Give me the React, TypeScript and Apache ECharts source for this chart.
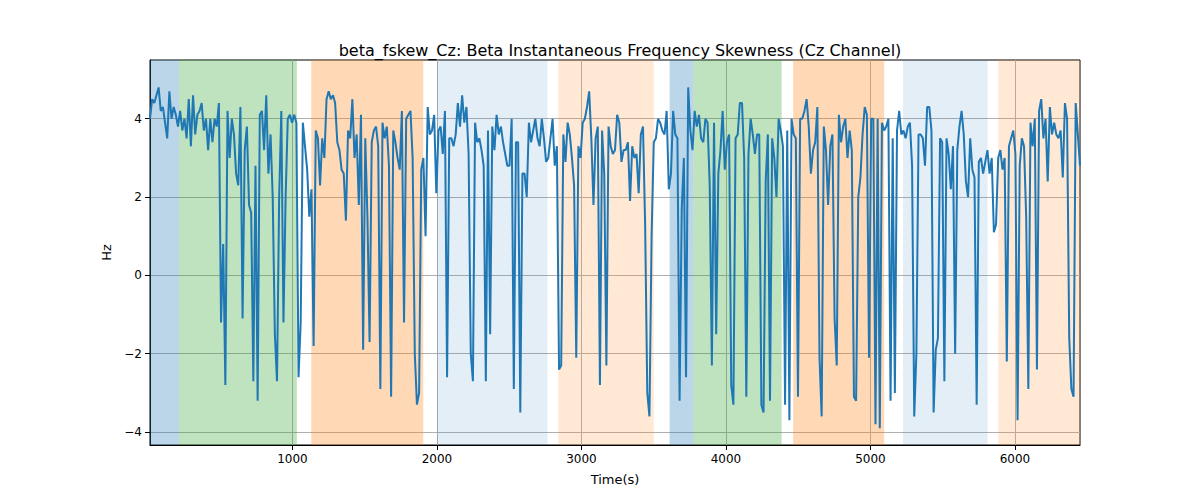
import { useEffect, useRef } from 'react'
import * as echarts from 'echarts'

const startTime = 14
const endTime = 6450

const values = [
  4.0, 4.5, 4.4, 4.6, 4.8, 4.2, 4.3, 3.9, 3.5, 4.7, 4.0, 4.3, 4.1, 3.8,
  4.2, 3.7, 4.0, 3.5, 4.5, 3.3, 4.6, 3.6, 4.1, 4.2, 4.4, 3.7, 4.0, 3.2, 4.0, 3.4, 4.0, 3.8, 4.4, -1.2, 0.8, -2.8, 4.2, 3.0, 4.0, 3.6, 2.6, 2.3, 4.3, -1.1, 3.2, 3.8, 1.8, 1.6, -2.7, 2.8, -3.2, 4.1, 4.2, 3.2, 4.6, 2.6, 3.6, 2.0, -1.5, -2.7, 2.0, 4.2, -1.2, 2.0, 4.0, 4.1, 3.9, 4.1,
  3.9, -2.6, -1.2, 3.9, 3.3, 2.7, 1.5, 2.2, -1.8,
  3.7, 3.5, 2.3, 3.5, 3.0, 4.5, 4.7, 4.5, 4.6, 4.4, 3.4, 3.2, 2.7, 2.6, 1.4, 3.7, 3.5, 4.5, 3.0, 3.6, 1.8, 4.1, -1.9, 3.5, 1.5, -1.7, 3.4, 3.7, 3.8, 3.3, -2.9, 3.9, 3.5, 3.8, 2.8, -3.1, 3.7, 3.4, 3.0, 2.7, 4.2, -1.2, 4.0, 4.1, 4.2, 3.0, -2.0, -3.3, -3.0, 2.7, 3.0, 1.0, 4.3,
  3.6, 3.7, 4.1, 2.1, 3.7, 3.8, 3.1, 4.2,
  -2.6, 3.5, 3.5, 3.3, 3.6, 4.4, 3.8, 4.6, 3.9, 4.3, 3.1, -2.0, -2.7, 3.9, 3.4, 3.5, 3.2, 2.8, -2.7, 3.7, -1.5, 3.8, 3.2, 4.1, 3.6, 3.8, 3.4, 3.1, 2.8, 2.8, 4.0, -2.9, 3.4, 3.4, -3.5, 2.6, 2.6, 2.0, 3.9, 3.4, 3.7, 4.0, 3.5, 3.3, 4.0, 3.5, 2.9, 3.0, 3.5, 4.0, 2.8, 3.3,
  -2.4, -2.3, 3.6, 2.9,
  3.9, 3.6, 3.0, 2.3, -2.1, 3.3, 3.0, 3.9, 4.0, 4.3, 4.7, 3.5, 1.8, 3.5, 3.8, -2.8, 3.7, 2.6, -2.3, 3.8, 3.3, 3.1, 3.2, 4.1, 3.9, 2.9, 3.2, 3.2, 3.4, 1.9, 3.3, 3.0, 3.1, 2.1, 3.6, 3.8, 1.3, -3.0, -3.6, 1.0, 3.4, 3.5,
  4.0, 3.9, 3.7, 3.6, 4.2, 2.2, 2.6,
  4.2, 3.6, 3.5, -3.2, 1.7, 3.0, -2.6, 4.8, 3.7, 3.2, 4.2,
  3.8, 4.1, 3.5, 3.4, 4.0, 3.9, 2.3, -2.3, 3.9, -1.5, 2.6, 3.2, 4.2, 2.7, 3.4, 3.6, -2.8, -3.3, 3.5, 3.6, 4.4, 4.4, 3.0, -3.1, 3.1, 4.0, 3.6, 3.1, 3.6, 3.6, -3.3, -3.5, 2.4, 3.6, -3.2, 3.5, 3.0, 2.0,
  4.0, 3.7, 3.3, -3.3,
  3.7, -3.7, 4.0, 3.6, 3.5, -3.1, 4.0, 4.0, 4.2, 4.5, 3.8, 2.6, 3.2, 3.4, 4.3, -2.1, -3.6, 3.8, 3.2, 1.8, 3.3, 3.6, -1.1, -2.3, 4.1, 3.4, 3.8, 4.0, 3.0, 3.7, 3.2, -3.1, -3.2, 2.0, 2.5, 3.6, 4.3, 4.1, -2.1, 4.0, 4.0, -3.8,
  4.0, -3.9, 3.9, 3.7, 3.8, 4.0, -3.2, 3.5, -3.0, 3.7, 4.2,
  3.6, 3.7, 3.5, 3.8, 3.9, 2.8, -3.6, -2.0, 3.6, 3.6, 3.5, 2.8, 4.3, 4.3, 3.7, -3.5, -1.9, -1.6, 3.5, 3.4, -2.7, 3.5, 3.1, 2.2, 3.3, -2.0, 3.2, 3.8, 4.2, 3.6, 2.4, 2.0, 3.5, 2.7, 2.5, -3.3, 2.9, 3.0,
  2.6, 2.9, 3.2, 2.6, 3.0,
  1.1, 1.3, 3.0, 3.2, 2.7, 3.0, -2.2, 3.3, 3.5, 3.7, 3.1, -3.7, 2.8, 3.5, 3.3, 1.5, -2.9, 3.9, 3.3, 4.0, -2.4, 4.2, 4.5, 3.5, 4.0, 2.4, 4.3, 3.6, 3.9, 3.6, 3.5, 3.7, 2.5, 4.4, 4.0, -1.6, -2.9, -3.1, 4.4, 3.6, 2.8,
]

// [start, end, color]
const bands: [number, number, string][] = [
  [14, 215, 'rgba(31,119,180,0.3)'],
  [215, 1030, 'rgba(44,160,44,0.3)'],
  [1130, 1905, 'rgba(255,127,14,0.3)'],
  [2000, 2765, 'rgba(31,119,180,0.12)'],
  [2840, 3500, 'rgba(255,127,14,0.18)'],
  [3610, 3775, 'rgba(31,119,180,0.3)'],
  [3775, 4385, 'rgba(44,160,44,0.3)'],
  [4465, 5095, 'rgba(255,127,14,0.3)'],
  [5225, 5810, 'rgba(31,119,180,0.12)'],
  [5885, 6450, 'rgba(255,127,14,0.18)'],
]

const xTicks = [1000, 2000, 3000, 4000, 5000, 6000]
const yTicks = [-4, -2, 0, 2, 4]

export default function App() {
  const ref = useRef<HTMLDivElement>(null)

  useEffect(() => {
    document.body.style.margin = '0'
    if (!ref.current) return
    const chart = echarts.init(ref.current, undefined, { renderer: 'svg' })
    const step = (endTime - startTime) / (values.length - 1)
    const data = values.map((v, i) => [startTime + i * step, v])
    const font = 'DejaVu Sans'

    chart.setOption({
      animation: false,
      textStyle: { fontFamily: font },
      title: {
        text: 'beta_fskew_Cz: Beta Instantaneous Frequency Skewness (Cz Channel)',
        left: 615,
        top: 37,
        textAlign: 'center',
        textStyle: { fontSize: 16, fontWeight: 'normal', color: '#000', fontFamily: font },
      },
      grid: { left: 150, right: 120, top: 60, bottom: 55, show: true, borderColor: '#000', borderWidth: 1, backgroundColor: 'transparent' },
      xAxis: {
        type: 'value',
        min: startTime,
        max: endTime,
        name: 'Time(s)',
        nameLocation: 'middle',
        nameGap: 28,
        nameTextStyle: { fontSize: 13, color: '#000' },
        axisLine: { onZero: false, lineStyle: { color: '#000' } },
        axisTick: { customValues: xTicks, lineStyle: { color: '#000' } },
        axisLabel: { customValues: xTicks, color: '#000', fontSize: 12, formatter: (v: number) => String(v) },
        splitLine: { show: true, lineStyle: { color: '#b0b0b0' } },
      },
      yAxis: {
        type: 'value',
        min: -4.33,
        max: 5.5,
        name: 'Hz',
        nameLocation: 'middle',
        nameGap: 36,
        nameTextStyle: { fontSize: 13, color: '#000' },
        axisLine: { show: true, onZero: false, lineStyle: { color: '#000' } },
        axisTick: { show: true, customValues: yTicks, lineStyle: { color: '#000' } },
        axisLabel: {
          customValues: yTicks,
          color: '#000',
          fontSize: 12,
          formatter: (v: number) => (v < 0 ? '\u2212' + Math.abs(v) : String(v)),
        },
        splitLine: { show: true, lineStyle: { color: '#b0b0b0' } },
      },
      series: [
        {
          type: 'line',
          data,
          showSymbol: false,
          lineStyle: { color: '#1f77b4', width: 2 },
          markArea: {
            silent: true,
            data: bands.map(([a, b, c]) => [
              { xAxis: a, itemStyle: { color: c } },
              { xAxis: b },
            ]),
          },
        },
      ],
    })
    return () => chart.dispose()
  }, [])

  return <div ref={ref} style={{ width: 1200, height: 500 }} />
}
